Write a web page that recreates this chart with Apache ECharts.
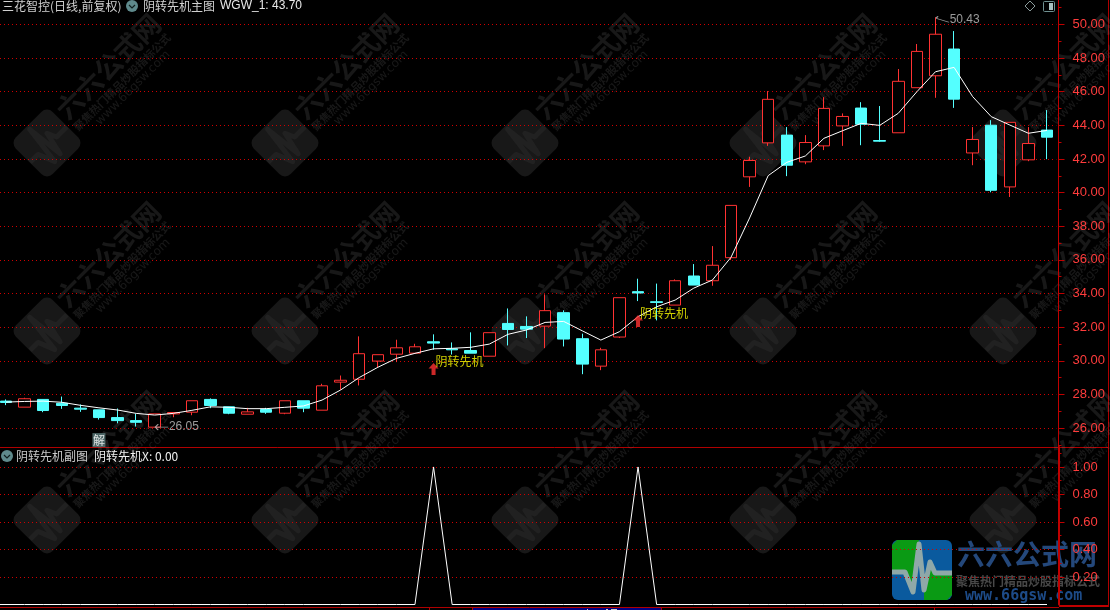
<!DOCTYPE html>
<html><head><meta charset="utf-8">
<style>html,body{margin:0;padding:0;background:#000}#c{width:1110px;height:610px}</style>
<script src="https://cdn.jsdelivr.net/npm/echarts@6/dist/echarts.min.js"></script>
</head><body><div id="c"></div>
<script>
const openP =[27.60,27.24,27.70,27.47,27.18,27.08,26.62,26.44,26.05,26.84,26.94,27.70,27.26,26.82,27.10,26.88,27.62,27.06,28.73,28.90,29.98,30.39,30.45,31.13,30.71,30.61,30.27,32.22,32.04,32.06,32.86,31.31,29.68,31.41,34.11,33.51,33.31,35.04,34.76,36.13,40.94,42.96,43.42,41.83,42.78,43.97,45.03,43.10,43.56,46.24,46.95,48.54,42.36,44.01,40.34,41.95,43.72];
const closeP=[27.52,27.74,27.04,27.34,27.12,26.62,26.44,26.34,26.84,26.92,27.62,27.34,26.88,26.96,26.94,27.62,27.18,28.51,28.84,30.42,30.36,30.77,30.83,31.05,30.65,30.45,31.67,31.86,31.88,32.98,31.29,29.80,30.65,33.75,34.03,33.47,34.76,34.50,35.68,39.24,41.91,45.55,41.63,42.98,45.01,44.53,44.07,43.06,46.62,48.40,49.42,45.56,43.16,40.14,44.18,42.92,43.30];
const lowP  =[27.36,27.24,26.94,27.14,26.96,26.50,26.28,26.09,26.05,26.64,26.76,27.18,26.82,26.82,26.84,26.82,26.94,27.06,28.27,28.53,29.58,29.92,30.45,30.65,30.37,30.45,30.27,30.91,31.35,30.75,30.85,29.20,29.44,31.35,33.55,32.40,33.31,34.50,34.46,35.99,40.34,42.78,40.98,41.69,42.53,42.78,42.82,43.02,43.56,46.24,45.64,45.04,41.63,40.02,39.74,41.87,41.99];
const highP =[27.70,27.80,27.70,27.87,27.40,27.08,27.16,26.84,26.84,26.95,27.62,27.76,27.26,27.20,27.20,27.62,27.62,28.63,29.12,31.45,30.36,31.25,31.01,31.57,31.09,31.69,31.67,33.11,32.64,33.95,33.00,31.61,30.77,33.75,34.88,34.59,34.84,35.75,36.82,39.24,42.13,46.04,43.90,43.42,45.68,44.71,45.38,45.15,47.35,48.84,50.43,49.61,43.90,44.31,44.18,43.90,44.91];
const wgw1  =[27.54,27.58,27.60,27.53,27.35,27.20,27.07,26.87,26.77,26.87,27.05,27.26,27.23,27.15,27.15,27.23,27.31,27.66,28.26,29.00,29.61,30.14,30.44,30.71,30.74,30.80,30.99,31.57,31.83,32.28,32.34,31.78,31.23,31.73,32.62,33.21,33.61,34.32,34.80,36.15,38.49,41.01,41.80,42.18,43.23,43.68,44.12,44.00,44.72,46.00,47.19,47.45,45.71,44.52,44.02,43.53,43.70];
const signalX=[0,0,0,0,0,0,0,0,0,0,0,0,0,0,0,0,0,0,0,0,0,0,0,1,0,0,0,0,0,0,0,0,0,0,1,0,0,0,0,0,0,0,0,0,0,0,0,0,0,0,0,0,0,0,0,0,0];
const categories=openP.map((_,i)=>String(i));
const signalIdx=[23,34];
const signalPos=[29.51,32.36];
const priceTicks=[26,28,30,32,34,36,38,40,42,44,46,48,50];
const priceMinor=[25,27,29,31,33,35,37,39,41,43,45,47,49,51];
const subTicks=[0.2,0.4,0.6,0.8,1.0];
const subMinor=[0.1,0.3,0.5,0.7,0.9,1.1];
const subGrid=[0.2,0.4,0.6,0.8];
const stockTitle='三花智控(日线,前复权)', mainName='阴转先机主图', mainValue='WGW_1: 43.70';
const subName='阴转先机副图', subValue='阴转先机X: 0.00', signalName='阴转先机';
const lowIdx=8, lowVal=26.05, highIdx=50, highVal=50.43, jieIdx=5, jiePos=25.28;

const RED='#ff3232', CYAN='#54ffff', AX='#c00000', LAB='#ff3c3c', NUM='"Liberation Sans",Arial,sans-serif', CJK='"Noto Sans CJK SC","Noto Sans",sans-serif';
const L=-3.3,R=1110-1056.3;
const yAxisBase=(gi,min,max,major,minor,w,grid)=>[
 {type:'value',gridIndex:gi,position:'right',offset:2.2,min,max,scale:true,
  splitLine:{show:true,customValues:grid,lineStyle:{color:'#d00000',width:1,type:[1,3],dashOffset:0.7}},
  axisLine:{show:true,onZero:false,lineStyle:{color:AX,width:w}},
  axisTick:{show:true,length:6,customValues:major,lineStyle:{color:AX}},
  axisLabel:{show:true,customValues:major,margin:14,color:LAB,fontFamily:NUM,fontSize:13,formatter:v=>v.toFixed(2)}},
 {type:'value',gridIndex:gi,position:'right',offset:2.2,min,max,scale:true,splitLine:{show:false},
  axisLine:{show:false},axisLabel:{show:false},
  axisTick:{show:true,length:3,customValues:minor,lineStyle:{color:AX}}}
];

const pulse=[[-30,2],[-17,2],[-9,22],[-3,-26],[2,20],[8,-8],[13,3],[30,3]];
const wmX=[47,285,525,763,1003], wmY=[143,331,520];
const WMC='rgba(150,150,150,0.16)';
const wm=[];
wmX.forEach(x=>wmY.forEach(y=>{
 wm.push({type:'group',x,y,rotation:Math.PI/4,silent:true,children:[
  {type:'rect',shape:{x:-26,y:-26,width:52,height:52,r:8},style:{fill:WMC}},
  {type:'polyline',shape:{points:pulse.map(p=>[p[0]*.85,p[1]*.85])},style:{fill:'none',stroke:'rgba(150,150,150,0.07)',lineWidth:5,lineJoin:'round'}},
  {type:'text',style:{x:30,y:-11,text:'六六公式网',font:'bold 27px '+CJK,fill:WMC,verticalAlign:'middle'}},
  {type:'text',style:{x:30,y:10,text:'聚焦热门精品炒股指标公式',font:'bold 11px '+CJK,fill:WMC,verticalAlign:'middle'}},
  {type:'text',style:{x:50,y:22,text:'www.66gsw.com',font:'12px "DejaVu Sans"',fill:WMC,verticalAlign:'middle'}}
 ]});
}));
const chevron=(cx,cy)=>[
 {type:'circle',shape:{cx,cy,r:6},style:{fill:'#5f8a8c'},silent:true},
 {type:'polyline',shape:{points:[[cx-3,cy-1],[cx,cy+2],[cx+3,cy-1]]},style:{fill:'none',stroke:'#10201f',lineWidth:1.2},silent:true}];
const txt=(x,y,text,fill,font)=>({type:'text',silent:true,style:{x,y,text,fill,font:font||('12px '+CJK),verticalAlign:'middle'}});
const ln=(x1,y1,x2,y2,w,c)=>({type:'line',silent:true,shape:{x1,y1,x2,y2},style:{stroke:c||'#b00000',lineWidth:w||1}});
const cx=922,cy=570;
const logo=[
 {type:'rect',silent:true,shape:{x:cx-30,y:cy-30,width:60,height:60,r:6},style:{fill:'#0a5a9e'}},
 {type:'polygon',silent:true,shape:{points:[[cx-25,cy-30],[cx-3,cy-30],[cx-9,cy+22],[cx-17,cy+2],[cx-30,cy+2],[cx-30,cy-25]]},style:{fill:'#0a9a14'}},
 {type:'polygon',silent:true,shape:{points:[[cx+2,cy+30],[cx+2,cy+20],[cx+8,cy-8],[cx+13,cy+3],[cx+30,cy+3],[cx+30,cy+25],[cx+25,cy+30]]},style:{fill:'#0a9a14'}},
 {type:'polyline',silent:true,shape:{points:pulse.map(p=>[cx+p[0],cy+p[1]])},style:{fill:'none',stroke:'#8fa8a8',lineWidth:5,lineJoin:'round'}},
 {type:'text',silent:true,style:{x:957,y:554,text:'六六公式网',fill:'rgba(42,85,144,.85)',font:'bold 28px '+CJK,verticalAlign:'middle'}},
 {type:'text',silent:true,style:{x:956,y:581,text:'聚焦热门精品炒股指标公式',fill:'rgba(85,85,85,.85)',font:'bold 12px '+CJK,verticalAlign:'middle'}},
 {type:'text',silent:true,style:{x:965,y:596,text:'www.66gsw.com',fill:'rgba(31,79,143,.95)',font:'bold 15px "DejaVu Sans Mono"',verticalAlign:'middle'}}
];
const frame=[
 ln(0,447.5,1109,447.5), ln(1108.5,0,1108.5,607), ln(0,607.5,1059,607.5),
 ln(1059,606,1108,606,2,'#c00000'),
 ln(429.5,607,429.5,610),ln(472.5,607,472.5,610),ln(661.5,607,661.5,610),ln(934.5,607,934.5,610),
 ln(0,604.5,6,604.5,1,'#fff'),
 {type:'rect',silent:true,shape:{x:473,y:608,width:188,height:2},style:{fill:'#000080'}},
 {type:'rect',silent:true,shape:{x:587,y:609,width:1,height:1},style:{fill:'#c8c8c8'}},
 {type:'rect',silent:true,shape:{x:606,y:609,width:2,height:1},style:{fill:'#c8c8c8'}},
 {type:'rect',silent:true,shape:{x:611,y:609,width:6,height:1},style:{fill:'#c8c8c8'}}
];
const header=[
 txt(2,6,stockTitle,'#d0d0d0'),...chevron(132,6),txt(143,6,mainName,'#d0d0d0'),
 txt(220,6,mainValue,'#e8e8e8','12px '+NUM),
 ...chevron(7,456),txt(16,456,subName,'#c8c8c8'),txt(94,456,subValue,'#f0f0f0'),
 {type:'polygon',silent:true,shape:{points:[[1030,1],[1035,6],[1030,11],[1025,6]]},style:{fill:'none',stroke:'#8a9a9a',lineWidth:1}},
 {type:'rect',silent:true,shape:{x:1043.5,y:1.5,width:11,height:10,r:1},style:{fill:'none',stroke:'#6f9090',lineWidth:1}},
 {type:'rect',silent:true,shape:{x:1049,y:3,width:4,height:7},style:{fill:'#a8c0c0'}}
];

const option={
 backgroundColor:'#000',animation:false,
 grid:[{left:L,right:R,top:0,height:447,outerBoundsMode:'none'},{left:L,right:R,top:447,height:157.5,outerBoundsMode:'none'}],
 xAxis:[0,1].map(g=>({type:'category',gridIndex:g,data:categories,boundaryGap:true,show:false})),
 yAxis:[...yAxisBase(0,24.87,51.457,priceTicks,priceMinor,1,priceTicks),...yAxisBase(1,0,1.145,subTicks,subMinor,2,subGrid)],
 series:[
  {type:'candlestick',xAxisIndex:0,yAxisIndex:0,z:2,barWidth:12,
   data:openP.map((o,i)=>[o,closeP[i],lowP[i],highP[i]]),
   itemStyle:{color:'#000',color0:CYAN,borderColor:RED,borderColor0:CYAN,borderWidth:1}},
  {type:'line',name:'WGW_1',xAxisIndex:0,yAxisIndex:0,z:3,data:wgw1,showSymbol:false,smooth:false,lineStyle:{color:'#fff',width:1}},
  {type:'scatter',xAxisIndex:0,yAxisIndex:0,z:4,silent:true,symbol:'path://M5,0 L10,6 L7,6 L7,13 L3,13 L3,6 L0,6 Z',symbolSize:[10,12],
   itemStyle:{color:RED},data:signalIdx.map((x,i)=>[x,signalPos[i]]),
   label:{show:true,formatter:signalName,position:[7,-8],color:'#ffff00',fontFamily:CJK,fontSize:12,align:'left',verticalAlign:'top'}},
  {type:'scatter',xAxisIndex:0,yAxisIndex:0,z:4,silent:true,symbol:'rect',symbolSize:[13,14],itemStyle:{color:'#5f8080'},
   data:[[jieIdx,jiePos]],label:{show:true,formatter:'解',position:'inside',color:'#fff',fontFamily:CJK,fontSize:12}},
  {type:'scatter',xAxisIndex:0,yAxisIndex:0,z:4,silent:true,symbol:'path://M0,3 L3,0 M0,3 L3,6 M0,3 L13,3',symbolSize:[13,6],symbolOffset:[7,0],
   itemStyle:{color:'none',borderColor:'#c0c0c0',borderWidth:1},data:[[lowIdx,lowVal]],
   label:{show:true,formatter:lowVal.toFixed(2),position:'right',distance:-3,color:'#c0c0c0',fontFamily:NUM,fontSize:12}},
  {type:'scatter',xAxisIndex:0,yAxisIndex:0,z:4,silent:true,symbol:'path://M0,2 L2,0 M0,2 L3,3 M0,2 L13,6',symbolSize:[13,6],symbolOffset:[7,2],
   itemStyle:{color:'none',borderColor:'#c0c0c0',borderWidth:1},data:[[highIdx,highVal]],
   label:{show:true,formatter:highVal.toFixed(2),position:'right',distance:-3,color:'#c0c0c0',fontFamily:NUM,fontSize:12}},
  {type:'line',name:'阴转先机X',xAxisIndex:1,yAxisIndex:2,z:3,data:signalX,showSymbol:false,lineStyle:{color:'#fff',width:1}}
 ],
 graphic:{elements:[...frame,...wm,...header,...logo]}
};
const chart=echarts.init(document.getElementById('c'),null,{renderer:'canvas'});
chart.setOption(option);
</script></body></html>
